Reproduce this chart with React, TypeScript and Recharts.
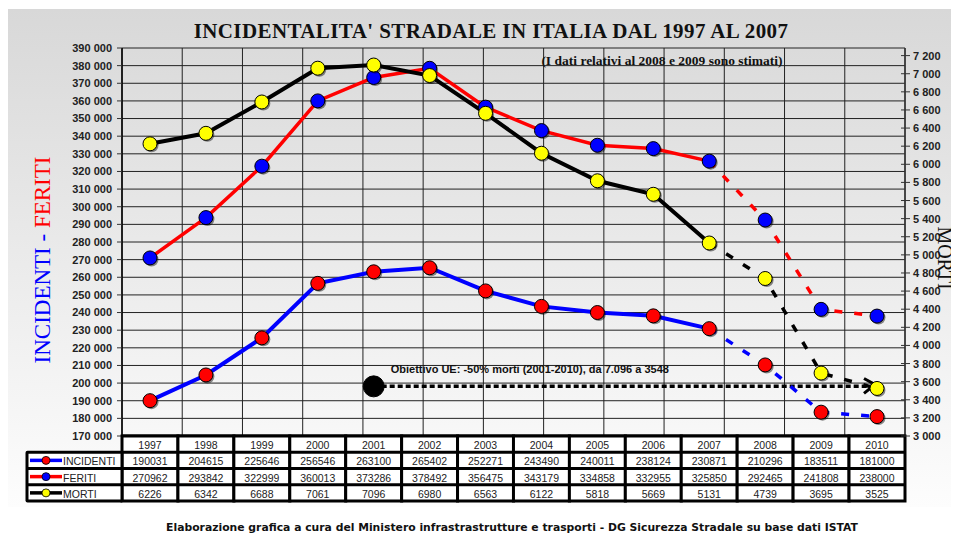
import React from 'react';
import { LineChart, Line, XAxis, YAxis, CartesianGrid, ReferenceLine, ReferenceDot } from 'recharts';

const years = ['1997', '1998', '1999', '2000', '2001', '2002', '2003', '2004', '2005', '2006', '2007', '2008', '2009', '2010'];
const incidenti = [190031, 204615, 225646, 256546, 263100, 265402, 252271, 243490, 240011, 238124, 230871, 210296, 183511, 181000];
const feriti = [270962, 293842, 322999, 360013, 373286, 378492, 356475, 343179, 334858, 332955, 325850, 292465, 241808, 238000];
const morti = [6226, 6342, 6688, 7061, 7096, 6980, 6563, 6122, 5818, 5669, 5131, 4739, 3695, 3525];

const lastActualYear = '2007';
const obiettivo = 3548;
const obiettivoFrom = '2001';
const obiettivoTo = '2010';

const leftTicks = Array.from({ length: 23 }, (_, i) => 170000 + i * 10000);
const rightTicks = Array.from({ length: 22 }, (_, i) => 3000 + i * 200);
const gridTicks = Array.from({ length: years.length + 1 }, (_, i) => i);

const lastActual = years.indexOf(lastActualYear);

const data = years.map((year, i) => ({
  year,
  incA: i <= lastActual ? incidenti[i] : null,
  incE: i >= lastActual ? incidenti[i] : null,
  ferA: i <= lastActual ? feriti[i] : null,
  ferE: i >= lastActual ? feriti[i] : null,
  morA: i <= lastActual ? morti[i] : null,
  morE: i >= lastActual ? morti[i] : null,
}));

const series = [
  { name: 'INCIDENTI', line: '#0000ff', dot: '#ff0000', values: incidenti },
  { name: 'FERITI', line: '#ff0000', dot: '#0000ff', values: feriti },
  { name: 'MORTI', line: '#000000', dot: '#ffff00', values: morti },
];

const sans = '"Liberation Sans", Arial, sans-serif';
const serif = '"Liberation Serif", "Times New Roman", serif';

const spaced = (v: number) => String(v).replace(/\B(?=(\d{3})+(?!\d))/g, ' ');

const makeDot = (fill: string, skip?: number, arrowAt?: number) => (props: any) => {
  const { cx, cy, index, value } = props;
  if (cx == null || cy == null || value == null || index === skip) return <g key={`d-${index}`} />;
  return (
    <g key={`d-${index}`}>
      {index === arrowAt && (
        <polyline
          points={`${cx - 13},${cy - 10} ${cx - 2},${cy - 4} ${cx - 13},${cy + 5}`}
          fill="none"
          stroke="#000"
          strokeWidth={3}
        />
      )}
      <circle cx={cx + 1.5} cy={cy + 1.5} r={7} fill="#000" opacity={0.45} />
      <circle cx={cx} cy={cy} r={7} fill={fill} stroke="#000" strokeWidth={1} />
    </g>
  );
};

const TableTick = (props: any) => {
  const { x, y, payload } = props;
  const i = payload.index;
  const rh = 16.25;
  const hw = 28;
  const cells = [years[i], incidenti[i], feriti[i], morti[i]];
  const lw = 95;
  const lx = x - hw - lw;
  return (
    <g>
      <rect x={x - hw - 1.5} y={y - 1.5} width={hw * 2 + 3} height={rh * 4 + 3} fill="#000" />
      {cells.map((v, r) => (
        <g key={r}>
          <rect x={x - hw + 1.5} y={y + r * rh + 1.5} width={hw * 2 - 3} height={rh - 3} fill="#fff" />
          <text x={x} y={y + r * rh + rh / 2 + 1} textAnchor="middle" dominantBaseline="central" fontSize={10.5} fontFamily={sans} fill="#222">
            {v}
          </text>
        </g>
      ))}
      {i === 0 && (
        <g>
          <rect x={lx - 1.5} y={y + rh - 1.5} width={lw + 3} height={rh * 3 + 3} rx={2} fill="#000" />
          {series.map((s, r) => {
            const cy = y + (r + 1) * rh + rh / 2;
            return (
              <g key={s.name}>
                <rect x={lx + 1.5} y={y + (r + 1) * rh + 1.5} width={lw - 3} height={rh - 3} fill="#fff" />
                <line x1={lx + 3} x2={lx + 35} y1={cy} y2={cy} stroke={s.line} strokeWidth={3.5} />
                <circle cx={lx + 19} cy={cy} r={4} fill={s.dot} stroke="#000" strokeWidth={0.8} />
                <text x={lx + 36} y={cy + 1} dominantBaseline="central" fontSize={10.5} fontFamily={sans} fill="#222">
                  {s.name}
                </text>
              </g>
            );
          })}
        </g>
      )}
    </g>
  );
};

const RightTick = (props: any) => {
  const { x, y, payload } = props;
  return (
    <g>
      <line x1={x - 4} x2={x + 5} y1={y} y2={y} stroke="#333" strokeWidth={1} />
      <text x={x + 8} y={y} dominantBaseline="central" fontSize={11} fontWeight="bold" fontFamily={sans} fill="#222">
        {spaced(payload.value)}
      </text>
    </g>
  );
};

const ObiettivoLabel = (props: any) => {
  const vb = props.viewBox || {};
  return (
    <text x={(vb.x ?? 0) + 17} y={(vb.y ?? 0) - 13} fontSize={11} fontWeight="bold" fontFamily={sans} fill="#111">
      {`Obiettivo UE: -50% morti (${obiettivoFrom}-${obiettivoTo}), da 7.096 a ${obiettivo}`}
    </text>
  );
};

export default function App() {
  return (
    <div style={{ position: 'relative', width: 943, height: 527 }}>
      <div
        style={{
          position: 'absolute',
          left: 0,
          top: 1,
          width: 943,
          height: 498,
          background: 'linear-gradient(#d8d8d8, #fdfdfd)',
        }}
      />
      <div style={{ position: 'absolute', left: 0, top: 0 }}>
        <LineChart width={943} height={519} data={data} margin={{ top: 40, right: 0, bottom: 0, left: 0 }}>
          <XAxis
            dataKey="year"
            height={91}
            interval={0}
            padding={{ left: 28, right: 28 }}
            tickLine={false}
            tickSize={0}
            tickMargin={0}
            axisLine={{ stroke: '#000', strokeWidth: 3 }}
            tick={<TableTick />}
          />
          <XAxis xAxisId="grid" type="number" domain={[0, years.length]} ticks={gridTicks} hide />
          <YAxis
            yAxisId="left"
            width={114}
            domain={[170000, 390000]}
            ticks={leftTicks}
            interval={0}
            tickFormatter={spaced}
            tickSize={5}
            tickMargin={5}
            tick={{ fontSize: 11, fontWeight: 'bold', fontFamily: sans, fill: '#222' }}
            tickLine={{ stroke: '#333' }}
            axisLine={{ stroke: '#000', strokeWidth: 1.5 }}
          />
          <YAxis
            yAxisId="right"
            orientation="right"
            width={46}
            domain={[3000, 7284]}
            ticks={rightTicks}
            interval={0}
            tickSize={0}
            tickMargin={0}
            tickLine={false}
            tick={<RightTick />}
            axisLine={{ stroke: '#333', strokeWidth: 1.5 }}
          />
          <CartesianGrid xAxisId="grid" yAxisId="left" stroke="#222" strokeWidth={1} />
          <ReferenceLine
            yAxisId="right"
            segment={[{ x: obiettivoFrom, y: obiettivo }, { x: obiettivoTo, y: obiettivo }]}
            stroke="#000"
            strokeWidth={3.5}
            strokeDasharray="5 3"
            label={<ObiettivoLabel />}
          />
          <ReferenceDot yAxisId="right" x={obiettivoFrom} y={obiettivo} r={10.5} fill="#000" stroke="#000" />
          <Line yAxisId="left" dataKey="incA" stroke="#0000ff" strokeWidth={4} dot={makeDot('#ff0000')} activeDot={false} isAnimationActive={false} />
          <Line yAxisId="left" dataKey="incE" stroke="#0000ff" strokeWidth={3.5} strokeDasharray="8 12" dot={makeDot('#ff0000', lastActual)} activeDot={false} isAnimationActive={false} />
          <Line yAxisId="left" dataKey="ferA" stroke="#ff0000" strokeWidth={3.5} dot={makeDot('#0000ff')} activeDot={false} isAnimationActive={false} />
          <Line yAxisId="left" dataKey="ferE" stroke="#ff0000" strokeWidth={3.5} strokeDasharray="8 12" dot={makeDot('#0000ff', lastActual)} activeDot={false} isAnimationActive={false} />
          <Line yAxisId="right" dataKey="morA" stroke="#000" strokeWidth={4} dot={makeDot('#ffff00')} activeDot={false} isAnimationActive={false} />
          <Line yAxisId="right" dataKey="morE" stroke="#000" strokeWidth={3.5} strokeDasharray="8 12" dot={makeDot('#ffff00', lastActual, years.length - 1)} activeDot={false} isAnimationActive={false} />
        </LineChart>
      </div>
      <svg width={951} height={527} style={{ position: 'absolute', left: 0, top: 0, pointerEvents: 'none' }}>
        <text x={483} y={30} textAnchor="middle" fontSize={21} letterSpacing={0.4} fontWeight="bold" fontFamily={serif} fill="#111">
          INCIDENTALITA' STRADALE IN ITALIA DAL 1997 AL 2007
        </text>
        <text x={654} y={57} textAnchor="middle" fontSize={13.5} fontWeight="bold" fontFamily={serif} fill="#111">
          (I dati relativi al 2008 e 2009 sono stimati)
        </text>
        <text transform="translate(34,252) rotate(-90)" textAnchor="middle" dominantBaseline="central" fontSize={23} fontFamily={serif}>
          <tspan fill="#0000ff">INCIDENTI - </tspan>
          <tspan fill="#ff0000">FERITI</tspan>
        </text>
        <text transform="translate(937,250) rotate(90)" textAnchor="middle" dominantBaseline="central" fontSize={20} fontFamily={serif} fill="#111">
          MORTI
        </text>
        <text x={504} y={523} textAnchor="middle" fontSize={10.8} fontWeight="bold" fontFamily='"DejaVu Sans", Verdana, sans-serif' fill="#111">
          Elaborazione grafica a cura del Ministero infrastrastrutture e trasporti - DG Sicurezza Stradale su base dati ISTAT
        </text>
      </svg>
    </div>
  );
}
